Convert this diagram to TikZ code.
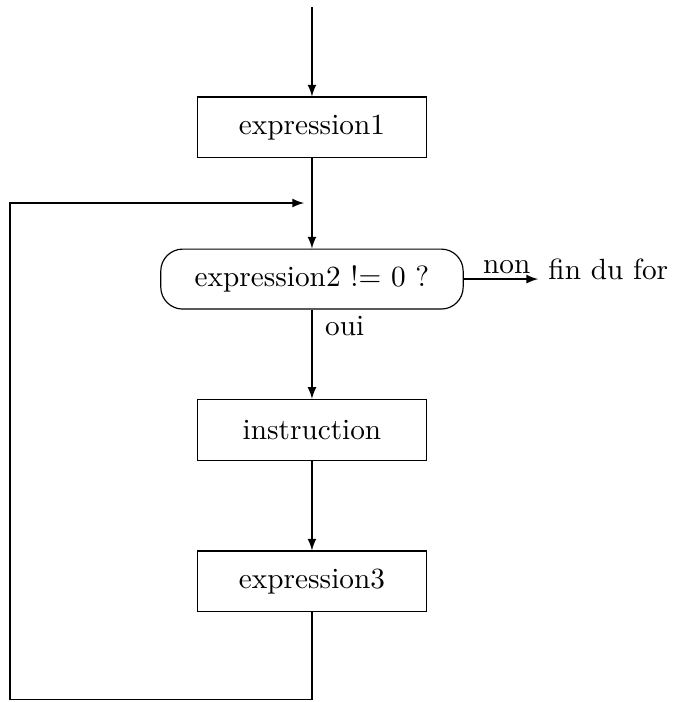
\documentclass[tikz,border=0pt]{standalone}
\usepackage{amsmath}
\usetikzlibrary{arrows,shapes,positioning,calc}
\begin{document}
\begin{tikzpicture}[>=latex,
  bloc/.style={draw,minimum width=2.75cm,minimum height=0.73cm},
  test/.style={draw,rounded corners=7.5pt,minimum width=3.63cm,minimum height=0.72cm}]
\useasboundingbox (0,0) rectangle (8.103,-8.427);
\coordinate (debut) at (3.745,-0.084);
\node[bloc] (expr1) at (3.745,-1.53) {expression1};
\coordinate (retour) at (3.745,-2.437);
\node[test] (cond) at (3.745,-3.35) {expression2 != 0 ?};
\node[anchor=base west] (fin) at (6.46,-3.35) {fin du for};
\node[bloc] (instr) at (3.745,-5.16) {instruction};
\node[bloc] (expr3) at (3.745,-6.98) {expression3};
\coordinate (bas) at (3.745,-8.40);
\coordinate (gauche) at (0.12,-8.40);
% axe principal
\draw[->] (debut) -- (expr1);
\draw[->] (expr1) -- (cond);
\draw[->] (cond) -- node[pos=0.18,right,xshift=1pt] {oui} (instr);
\draw[->] (cond.east) -- node[above,inner sep=1.5pt,xshift=2pt] {non} (cond.east -| fin.west);
\draw[->] (instr) -- (expr3);
% boucle
\draw[->,shorten >=2.7pt] (expr3) -- (bas) -- (gauche) |- (retour);
\end{tikzpicture}
\end{document}
